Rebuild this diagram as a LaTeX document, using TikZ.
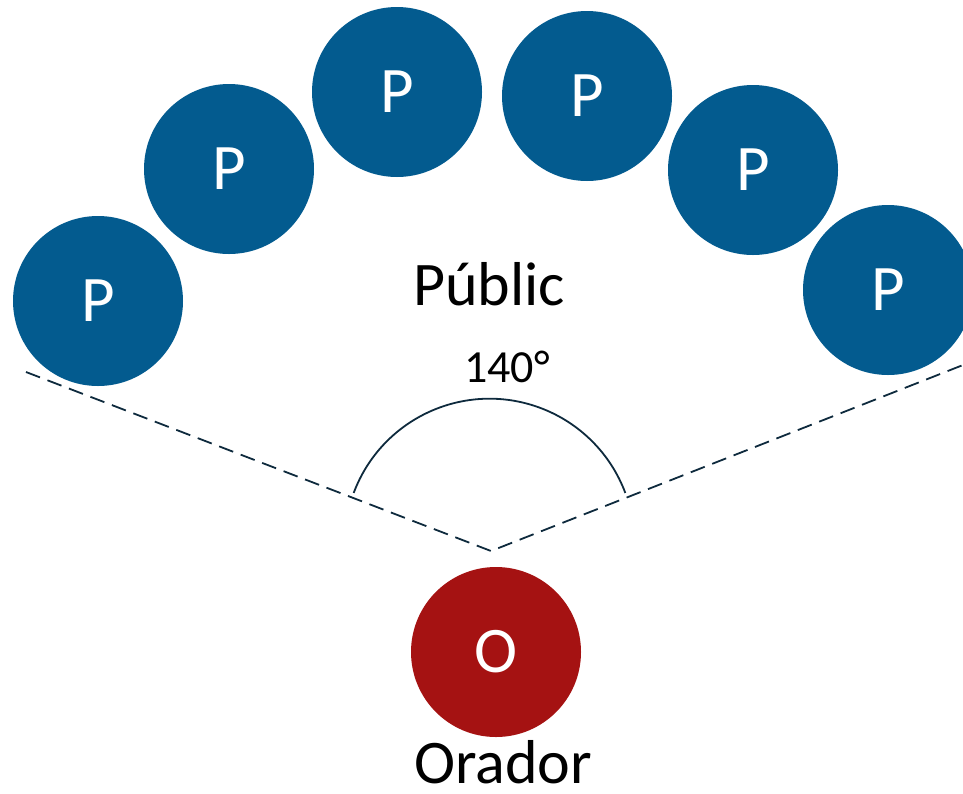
\documentclass[tikz,border=0pt]{standalone}
\usetikzlibrary{calc}
\usepackage{fontspec}
\setmainfont{Carlito}
\definecolor{pblue}{HTML}{035B8F}
\definecolor{ored}{HTML}{A51212}
\definecolor{navy}{HTML}{0E2A3D}
\begin{document}
\begin{tikzpicture}[x=1pt,y=-1pt,
  pc/.style={circle,fill=pblue,minimum size=170pt,inner sep=0pt,text=white,font=\fontsize{65}{65}\selectfont},
  oc/.style={circle,fill=ored,minimum size=170pt,inner sep=0pt,text=white,font=\fontsize{65}{65}\selectfont},
  lbl/.style={anchor=base,inner sep=0pt,text=black},
  dashline/.style={draw=navy,line width=1.8pt,dash pattern=on 15pt off 8pt},
  arcline/.style={draw=navy,line width=1.8pt}]
\useasboundingbox (0,0) rectangle (963,793);
\node[pc] (p1) at (98,301) {P};
\node[pc] (p2) at (229,169) {P};
\node[pc] (p3) at (397,92) {P};
\node[pc] (p4) at (587,96) {P};
\node[pc] (p5) at (753,170) {P};
\node[pc] (p6) at (888,290) {P};
\node[oc] (o) at (496,652) {O};
\node[lbl,font=\fontsize{62}{62}\selectfont] (pub) at (489,305) {Públic};
\node[lbl,font=\fontsize{46}{46}\selectfont] (ang) at (507,382) {140°};
\node[lbl,font=\fontsize{62}{62}\selectfont] (ora) at (503,783) {Orador};
\coordinate (l) at (26,372);
\coordinate (v) at (491,551);
\coordinate (r) at (963,365);
\draw[dashline] (l) -- (v) -- (r);
\coordinate (ac) at (489.5,543.7);
\draw[arcline] ($(ac)+(-159.5:145)$) arc[start angle=-159.5,end angle=-20.5,radius=145];
\end{tikzpicture}
\end{document}
